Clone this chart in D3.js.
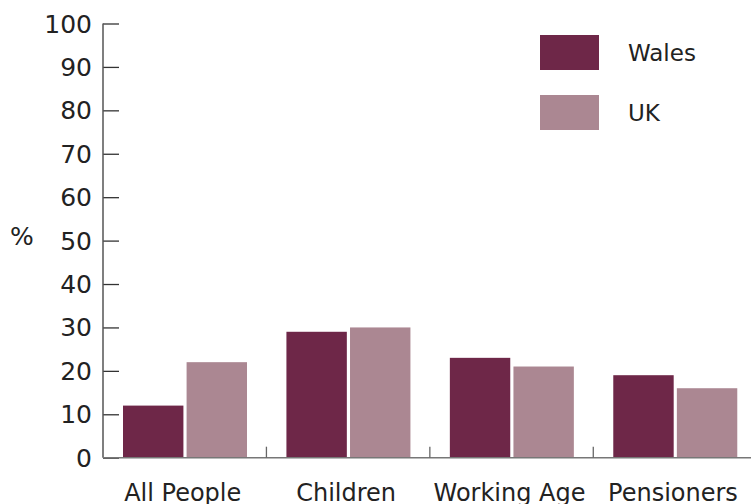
<!DOCTYPE html>
<html><head><meta charset="utf-8">
<script src="https://cdn.jsdelivr.net/npm/d3@7"></script>
<style>body{margin:0;background:#fff}text{font-family:"DejaVu Sans",sans-serif;fill:#222}</style>
</head><body><svg id="c" width="751" height="504"></svg>
<script>
const categories = ["All People","Children","Working Age","Pensioners"];
const seriesNames = ["Wales","UK"];
const walesValues = [12,29,23,19];
const ukValues = [22,30,21,16];
const yTicks = [0,10,20,30,40,50,60,70,80,90,100];
const colors = ["#6e2748","#ab8792"];

const svg = d3.select("#c");
const x0 = 103, x1 = 756.7, yTop = 23.5, yBot = 457.7;
const x = d3.scaleBand().domain(categories).range([x0,x1]).paddingInner(0).paddingOuter(0);
const xs = d3.scaleBand().domain(seriesNames).range([20, 20+124]).paddingInner(0.05);
const y = d3.scaleLinear().domain([0,100]).range([yBot,yTop]);
const data = [walesValues, ukValues];

// bars
categories.forEach((c,i)=>{
  seriesNames.forEach((s,j)=>{
    svg.append("rect")
      .attr("x", x(c)+xs(s)).attr("width", xs.bandwidth())
      .attr("y", y(data[j][i])).attr("height", y(0)-y(data[j][i]))
      .attr("fill", colors[j]);
  });
});

// y axis
const yAxis = d3.axisRight(y).tickValues(yTicks).tickSize(16).tickFormat("");
const ga = svg.append("g").attr("transform",`translate(${x0},0)`).call(yAxis);
ga.select(".domain").remove();
ga.selectAll(".tick line").attr("stroke","#333").attr("stroke-width",1.3);
svg.append("line").attr("x1",x0).attr("x2",x0).attr("y1",yTop).attr("y2",yBot)
  .attr("stroke","#555").attr("stroke-width",1.5);
svg.selectAll(".ylab").data(yTicks).enter().append("text")
  .attr("x",92).attr("y",d=>y(d)).attr("dy","0.36em").attr("text-anchor","end")
  .style("font-size","25px").text(d=>d);
svg.append("text").attr("x",22).attr("y",236).attr("dy","0.36em").attr("text-anchor","middle")
  .style("font-size","25px").text("%");

// x axis
svg.append("line").attr("x1",x0).attr("x2",751).attr("y1",yBot).attr("y2",yBot)
  .attr("stroke","#777").attr("stroke-width",1.5);
categories.slice(1).forEach(c=>{
  svg.append("line").attr("x1",x(c)).attr("x2",x(c)).attr("y1",yBot-11).attr("y2",yBot)
    .attr("stroke","#666").attr("stroke-width",1.3);
});
svg.selectAll(".xlab").data(categories).enter().append("text")
  .attr("x",d=>x(d)+x.bandwidth()/2 - 2).attr("y",500.5).attr("text-anchor","middle")
  .style("font-size","24px").text(d=>d);

// legend
seriesNames.forEach((s,j)=>{
  svg.append("rect").attr("x",540).attr("y",35+60*j).attr("width",59).attr("height",35).attr("fill",colors[j]);
  svg.append("text").attr("x",628).attr("y",52.5+60*j).attr("dy","0.36em").style("font-size","23px").text(s);
});
</script></body></html>
